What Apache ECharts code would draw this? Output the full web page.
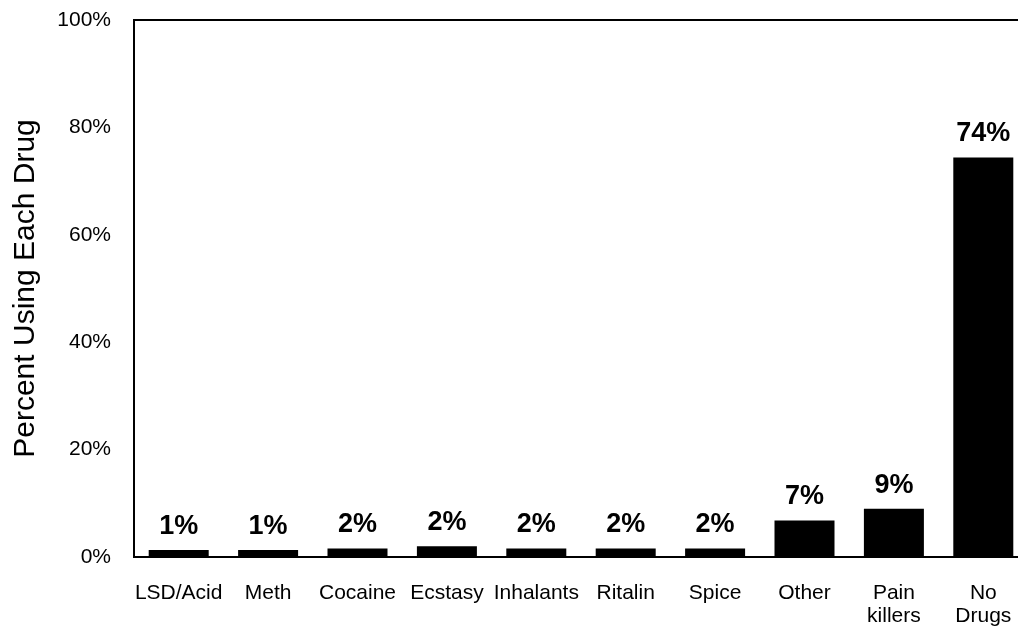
<!DOCTYPE html>
<html>
<head>
<meta charset="utf-8">
<script src="https://cdn.jsdelivr.net/npm/echarts@6/dist/echarts.min.js"></script>
<style>
html,body{margin:0;padding:0;background:#fff;}
#chart{width:1018px;height:630px;}
</style>
</head>
<body>
<div id="chart"></div>
<script>
const categories = ["LSD/Acid", "Meth", "Cocaine", "Ecstasy", "Inhalants", "Ritalin", "Spice", "Other", "Pain\nkillers", "No\nDrugs"];
const percentUsing = [1.3, 1.3, 1.6, 2.0, 1.6, 1.6, 1.6, 6.8, 9.0, 74.4];
const yTicks = [0, 20, 40, 60, 80, 100];
const yTitle = "Percent Using Each Drug";

const chart = echarts.init(document.getElementById('chart'), null, {renderer: 'canvas'});
const font = "Liberation Sans, Arial, sans-serif";
chart.setOption({
  animation: false,
  backgroundColor: '#fff',
  grid: {left: 134, top: 20, height: 537, width: 894, containLabel: false, outerBoundsMode: 'none',
         show: true, borderColor: '#000', borderWidth: 2, backgroundColor: 'transparent'},
  xAxis: {
    type: 'category',
    data: categories,
    axisLine: {show: true, lineStyle: {color: '#000', width: 2}},
    axisTick: {show: false},
    axisLabel: {color: '#000', fontFamily: font, fontSize: 21, margin: 25, lineHeight: 23, interval: 0}
  },
  yAxis: {
    type: 'value',
    min: yTicks[0],
    max: yTicks[yTicks.length - 1],
    interval: 20,
    name: yTitle,
    nameLocation: 'middle',
    nameRotate: 90,
    nameGap: 93,
    nameTextStyle: {color: '#000', fontFamily: font, fontSize: 30},
    axisLine: {show: true, lineStyle: {color: '#000', width: 2}},
    axisTick: {show: false},
    splitLine: {show: false},
    axisLabel: {color: '#000', fontFamily: font, fontSize: 21, margin: 23, formatter: v => v + '%'}
  },
  series: [{
    type: 'bar',
    data: percentUsing,
    barWidth: 60,
    itemStyle: {color: '#000'},
    label: {
      show: true,
      position: 'top',
      distance: 10,
      color: '#000',
      fontFamily: font,
      fontSize: 27,
      fontWeight: 'bold',
      formatter: p => Math.round(p.value) + '%'
    }
  }]
});
</script>
</body>
</html>
